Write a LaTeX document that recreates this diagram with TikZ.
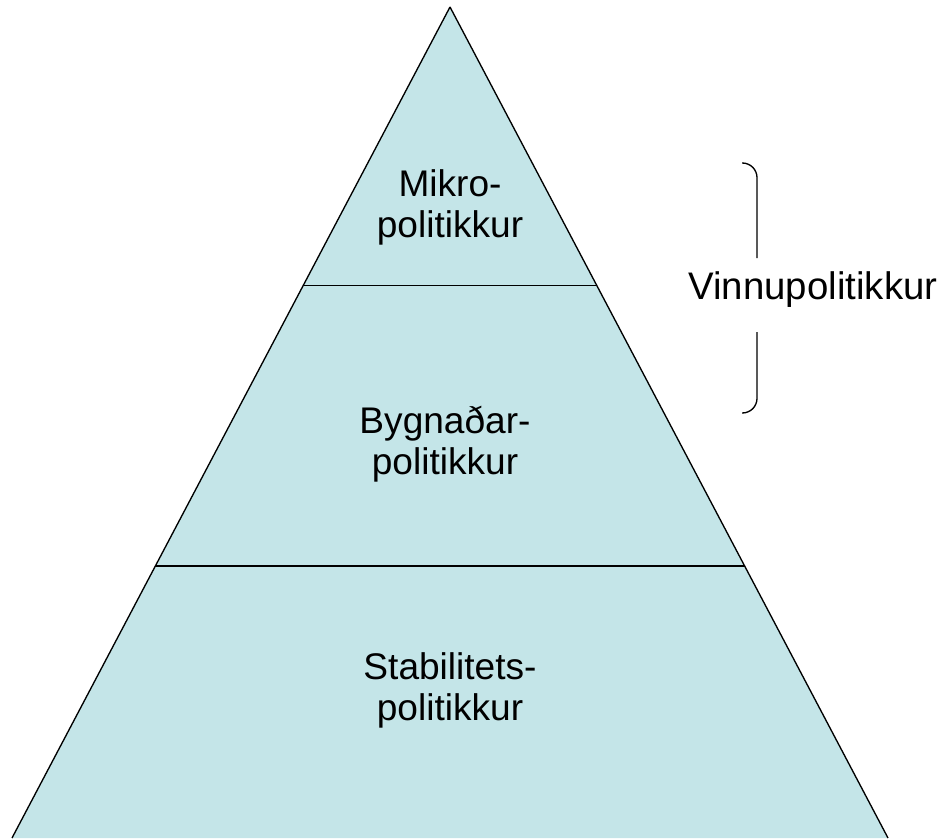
\documentclass[tikz,border=0pt]{standalone}
\usepackage{fontspec}
\setmainfont{Liberation Sans}
\usepackage{xcolor}
\usepackage{tikz}
\usetikzlibrary{
  calc,
  positioning
}
\definecolor{pyrfill}{RGB}{196,229,232}
\tikzset{
  lvltext/.style={align=center,inner sep=0pt,font=\fontsize{27.8}{30.75}\selectfont},
  edge/.style={line width=1pt,black}
}

\begin{document}
\begin{tikzpicture}[x=0.75pt,y=-0.75pt]
			\useasboundingbox (0,0) rectangle (941,838);
			\clip (0,0) rectangle (941,838);

			\coordinate (top) at (450,7);
			\coordinate (bl) at (12,838);
			\coordinate (br) at (888,838);
			\coordinate (l1) at ($(top)!0.3354!(bl)$);
			\coordinate (r1) at ($(top)!0.3354!(br)$);
			\coordinate (l2) at ($(top)!0.6727!(bl)$);
			\coordinate (r2) at ($(top)!0.6727!(br)$);

			\fill[pyrfill] (top) -- (bl) -- (br) -- cycle;
			\draw[edge] (top) -- (bl);
			\draw[edge] (top) -- (br);
			\draw[edge] (l1) -- (r1);
			\draw[edge] (l2) -- (r2);

			\node[lvltext] (mikro) at (450,207) {Mikro-\\politikkur};
			\node[lvltext] (bygn) at (445,444) {Bygnaðar-\\politikkur};
			\node[lvltext] (stab) at (450,690) {Stabilitets-\\politikkur};

			\node[lvltext,font=\fontsize{28.8}{32}\selectfont] (vinnu) at (813,290) {Vinnupolitikkur};
			\coordinate (btop) at (742,163);
			\coordinate (bbot) at (742,413);
			\draw[edge,rounded corners=11pt] (btop) -| (757,258);
			\draw[edge,rounded corners=11pt] (bbot) -| (757,332);
		\end{tikzpicture}
\end{document}
